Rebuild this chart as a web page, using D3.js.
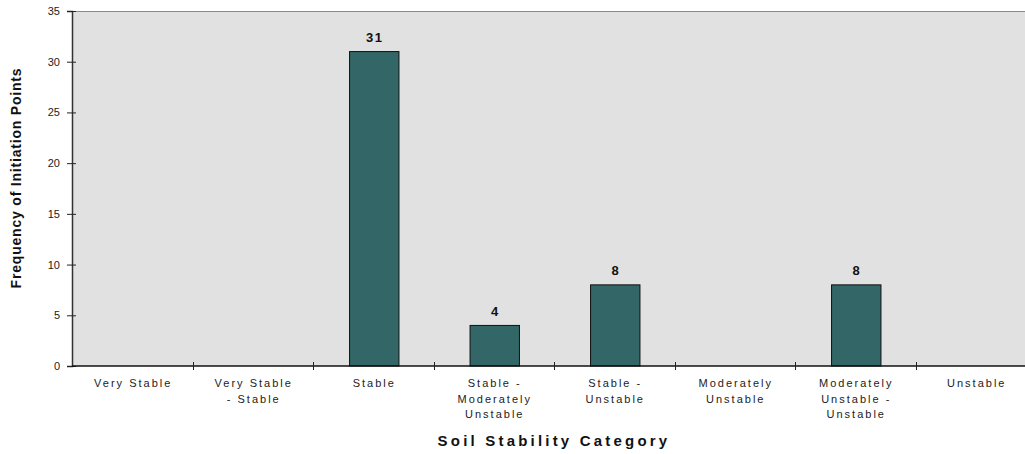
<!DOCTYPE html>
<html>
<head>
<meta charset="utf-8">
<script src="https://cdn.jsdelivr.net/npm/d3@7"></script>
<style>
  html, body { margin: 0; padding: 0; background: #fff; }
  svg { display: block; font-family: Arial, "Liberation Sans", sans-serif; }
</style>
</head>
<body>
<svg id="chart" width="1025" height="454"></svg>
<script>
// Soil stability categories (multi-line labels split on "|")
const categories = [
  "Very Stable",
  "Very Stable|- Stable",
  "Stable",
  "Stable -|Moderately|Unstable",
  "Stable -|Unstable",
  "Moderately|Unstable",
  "Moderately|Unstable -|Unstable",
  "Unstable"
];
// Frequency of initiation points per category
const frequencies = [0, 0, 31, 4, 8, 0, 8, 0];
const yTickValues = [0, 5, 10, 15, 20, 25, 30, 35];

const svg = d3.select("#chart");
const margin = { left: 72, top: 11, right: 1036, bottom: 366 };

const x = d3.scaleBand()
  .domain(categories)
  .range([margin.left, margin.right])
  .paddingInner(0).paddingOuter(0);

const y = d3.scaleLinear()
  .domain([0, 35])
  .range([margin.bottom, margin.top]);

// Plot background
svg.append("rect")
  .attr("x", margin.left).attr("y", margin.top)
  .attr("width", margin.right - margin.left)
  .attr("height", margin.bottom - margin.top)
  .attr("fill", "#e1e1e1");

// Top border
svg.append("line")
  .attr("x1", margin.left).attr("x2", margin.right)
  .attr("y1", margin.top + 0.5).attr("y2", margin.top + 0.5)
  .attr("stroke", "#8a8a8a").attr("stroke-width", 1);

const barData = categories.map((c, i) => ({ c, v: frequencies[i] })).filter(d => d.v > 0);

// Bars
const bw = x.bandwidth() * 0.41;
svg.append("g").selectAll("rect")
  .data(barData)
  .join("rect")
  .attr("x", d => x(d.c) + x.bandwidth() / 2 - bw / 2 + 1)
  .attr("y", d => y(d.v))
  .attr("width", bw)
  .attr("height", d => y(0) - y(d.v))
  .attr("fill", "#336666")
  .attr("stroke", "#111")
  .attr("stroke-width", 1);

// Value labels
svg.append("g").selectAll("text")
  .data(barData)
  .join("text")
  .attr("x", d => x(d.c) + x.bandwidth() / 2 + 1.5)
  .attr("y", d => y(d.v) - 9.5)
  .attr("text-anchor", "middle")
  .attr("font-size", 13)
  .attr("font-weight", "bold")
  .attr("letter-spacing", "1.5px")
  .attr("fill", "#111")
  .text(d => d.v);

// Y axis
const yAxis = svg.append("g")
  .attr("transform", `translate(${margin.left},0)`)
  .call(d3.axisLeft(y).tickValues(yTickValues).tickSize(5).tickPadding(7));
yAxis.select(".domain").attr("stroke", "#333").attr("stroke-width", 1.5);
yAxis.selectAll(".tick line").attr("x2", 4).attr("x1", -5).attr("stroke", "#222");
yAxis.selectAll(".tick text")
  .attr("font-size", 11)
  .attr("fill", "#222")
  .attr("font-family", "Arial, 'Liberation Sans', sans-serif");

// X axis line and boundary ticks
const xAxisG = svg.append("g");
xAxisG.append("line")
  .attr("x1", margin.left).attr("x2", margin.right)
  .attr("y1", y(0)).attr("y2", y(0))
  .attr("stroke", "#111").attr("stroke-width", 1.5);
xAxisG.selectAll("line.tick")
  .data(categories.slice(1))
  .join("line")
  .attr("class", "tick")
  .attr("x1", d => Math.round(x(d)) + 0.5).attr("x2", d => Math.round(x(d)) + 0.5)
  .attr("y1", y(0) - 4).attr("y2", y(0) + 4)
  .attr("stroke", "#222").attr("stroke-width", 1);

// Category labels
const lbl = xAxisG.selectAll("text.cat")
  .data(categories)
  .join("text")
  .attr("class", "cat")
  .attr("y", 387)
  .attr("text-anchor", "middle")
  .attr("font-size", 11)
  .attr("letter-spacing", "2px")
  .attr("fill", "#222");
lbl.selectAll("tspan")
  .data(d => d.split("|").map(t => ({ t, cx: x(d) + x.bandwidth() / 2 + 1 })))
  .join("tspan")
  .attr("x", d => d.cx)
  .attr("dy", (d, i) => i === 0 ? 0 : 15.7)
  .text(d => d.t);

// Axis titles
svg.append("text")
  .attr("x", 554).attr("y", 446)
  .attr("text-anchor", "middle")
  .attr("font-size", 15)
  .attr("font-weight", "bold")
  .attr("letter-spacing", "3.2px")
  .attr("fill", "#111")
  .text("Soil Stability Category");

svg.append("text")
  .attr("transform", "translate(21,178) rotate(-90)")
  .attr("text-anchor", "middle")
  .attr("font-size", 14)
  .attr("font-weight", "bold")
  .attr("letter-spacing", "0.8px")
  .attr("fill", "#111")
  .text("Frequency of Initiation Points");
</script>
</body>
</html>
